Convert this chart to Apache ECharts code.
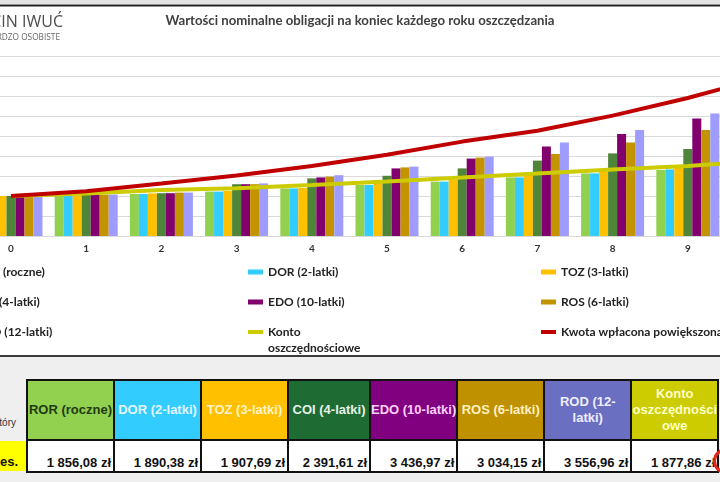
<!DOCTYPE html>
<html>
<head>
<meta charset="utf-8">
<script src="https://cdn.jsdelivr.net/npm/echarts@6/dist/echarts.min.js"></script>
<style>
html, body { margin: 0; padding: 0; width: 720px; height: 482px; overflow: hidden; background: #efefef; }
#chart { position: absolute; left: 0; top: 0; width: 720px; height: 357px; }
#tbl { position: absolute; left: 26px; top: 379px; border-collapse: collapse; table-layout: fixed;
       font-family: "Liberation Sans", Arial, sans-serif; font-weight: bold; font-size: 13px; }
#tbl td { border: 2px solid #111; padding: 0; overflow: hidden; }
#tbl tr.head td { height: 58px; text-align: center; vertical-align: middle; line-height: 16px; white-space: pre; }
#tbl tr.vals td { height: 30px; background: #fff; color: #111; text-align: right; vertical-align: bottom;
                  padding-right: 2px; line-height: 16px; white-space: nowrap; }
.lab { position: absolute; font-family: "Liberation Sans", Arial, sans-serif; box-sizing: border-box; text-align: right; }
#circle { position: absolute; left: 713px; top: 448px; width: 26px; height: 26px; box-sizing: border-box;
          border: 3px solid #e3261b; border-radius: 50%; }
</style>
</head>
<body>
<div id="chart"></div>
<div class="lab" style="left:-60px; top:417px; width:76px; font-size:10px; color:#333;">który</div>
<div class="lab" style="left:-40px; top:441px; width:66px; height:30px; background:#ffff00; padding-right:8px;
     font-weight:bold; font-size:13px; line-height:16px; padding-top:13px; color:#111;">mies.</div>
<table id="tbl"></table>
<div id="circle"></div>
<script>
// dane: wartości na koniec każdego roku (0-10)
var years = ['0', '1', '2', '3', '4', '5', '6', '7', '8', '9', '10'];
var ror   = [1000, 1010, 1050, 1110, 1190, 1275, 1360, 1465, 1565, 1650, 1856.08];
var dor   = [1000, 1010, 1050, 1110, 1190, 1275, 1360, 1465, 1565, 1665, 1890.38];
var toz   = [1000, 1020, 1065, 1125, 1200, 1320, 1400, 1525, 1610, 1715, 1907.69];
var coi   = [1000, 1030, 1070, 1295, 1440, 1505, 1690, 1885, 2065, 2175, 2391.61];
var edo   = [1000, 1035, 1070, 1295, 1465, 1690, 1935, 2235, 2550, 2940, 3436.97];
var ros   = [1000, 1035, 1085, 1295, 1485, 1715, 1960, 2050, 2335, 2650, 3034.15];
var rod   = [1000, 1035, 1085, 1315, 1520, 1735, 1985, 2335, 2650, 3065, 3556.96];
var konto = [1000, 1065, 1150, 1195, 1275, 1360, 1460, 1565, 1665, 1750, 1877.86];
var kwota = [1000, 1120, 1310, 1510, 1750, 2030, 2360, 2630, 3010, 3450, 3960];

var barNames = ['ROR (roczne)', 'DOR (2-latki)', 'TOZ (3-latki)', 'COI (4-latki)', 'EDO (10-latki)', 'ROS (6-latki)', 'ROD (12-latki)'];
var barData = [ror, dor, toz, coi, edo, ros, rod];
var barColors = ['#92D050', '#33CCFF', '#FFC000', '#4E8539', '#82006E', '#C49300', '#9E9CFF'];
var kontoName = 'Konto oszczędnościowe';
var kwotaName = 'Kwota wpłacona powiększona o inflację';

// tabela pod wykresem
var tableHeaders = ['ROR (roczne)', 'DOR (2-latki)', 'TOZ (3-latki)', 'COI (4-latki)', 'EDO (10-latki)', 'ROS (6-latki)', 'ROD (12-\nlatki)', 'Konto\noszczędności\nowe'];
var tableSeries = [ror, dor, toz, coi, edo, ros, rod, konto];
var headBg = ['#92D050', '#33CCFF', '#FFC000', '#1F6B34', '#800080', '#BF9000', '#6A6FC1', '#CCCC00'];
var headFg = ['#1f3a12', '#e4f7ff', '#fff3cc', '#e6f2e6', '#ffd0ff', '#fff0c4', '#eeeeff', '#ffffcc'];
var colW = [87, 87, 87, 82, 87, 87, 87, 87];

function zl(v) {
	var s = v.toFixed(2).replace('.', ',');
	return s.replace(/\B(?=(\d{3})+(?!\d))/, ' ') + ' zł';
}

var html = '<colgroup>' + colW.map(function (w) { return '<col style="width:' + w + 'px">'; }).join('') + '</colgroup>';
html += '<tr class="head">' + tableHeaders.map(function (h, i) {
	return '<td style="background:' + headBg[i] + ';color:' + headFg[i] + '">' + h + '</td>';
}).join('') + '</tr>';
html += '<tr class="vals">' + tableSeries.map(function (a) {
	return '<td>' + zl(a[a.length - 1]) + '</td>';
}).join('') + '</tr>';
document.getElementById('tbl').innerHTML = html;

var font = 'Lato, "Liberation Sans", sans-serif';
var chart = echarts.init(document.getElementById('chart'));

var series = barNames.map(function (n, i) {
	return {
		name: n, type: 'bar', data: barData[i], barWidth: 9, barGap: '0%',
		itemStyle: { color: barColors[i] }
	};
});
series.push({
	name: kontoName, type: 'line', data: konto, symbol: 'none', showSymbol: false,
	lineStyle: { color: '#CCCC00', width: 4 }, itemStyle: { color: '#CCCC00' }
});
series.push({
	name: kwotaName, type: 'line', data: kwota, symbol: 'none', showSymbol: false,
	lineStyle: { color: '#C00000', width: 4 }, itemStyle: { color: '#C00000' }
});

function legendRow(names, top) {
	return {
		orient: 'horizontal', left: -45, top: top, width: 900, padding: 0, itemGap: 0,
		itemWidth: 15, itemHeight: 5, selectedMode: false,
		textStyle: { fontFamily: font, fontSize: 12, fontWeight: 'bold', color: '#222', width: 273, lineHeight: 16 },
		formatter: function (n) { return n === kontoName ? '\nKonto\noszczędnościowe' : n; },
		data: names.map(function (n) {
			return barNames.indexOf(n) >= 0
				? { name: n, icon: 'rect' }
				: { name: n, icon: 'path://M0,0L15,0L15,4L0,4Z' };
		})
	};
}

var option = {
	backgroundColor: '#ffffff',
	animation: false,
	title: {
		text: 'Wartości nominalne obligacji na koniec każdego roku oszczędzania',
		left: 'center', top: 9,
		textStyle: { fontFamily: font, fontSize: 13.2, fontWeight: 'bold', color: '#404040' }
	},
	grid: { left: -26.6, top: 56, width: 827.2, height: 180, containLabel: false, outerBoundsMode: 'none' },
	xAxis: {
		type: 'category', data: years,
		axisLine: { lineStyle: { color: '#d9d9d9', width: 1 } },
		axisTick: { show: false },
		axisLabel: { color: '#333', fontSize: 10, fontWeight: 'bold', fontFamily: font, margin: 8 }
	},
	yAxis: {
		type: 'value', min: 0, max: 4500, interval: 500,
		axisLabel: { show: false }, axisLine: { show: false }, axisTick: { show: false },
		splitLine: { lineStyle: { color: '#d9d9d9', width: 1 } }
	},
	legend: [
		legendRow(['ROR (roczne)', 'DOR (2-latki)', 'TOZ (3-latki)'], 264),
		legendRow(['COI (4-latki)', 'EDO (10-latki)', 'ROS (6-latki)'], 294),
		legendRow(['ROD (12-latki)', kontoName, kwotaName], 308)
	],
	graphic: [
		{ type: 'rect', shape: { x: 0, y: 0, width: 720, height: 4 }, style: { fill: '#e4e4e4' } },
		{ type: 'rect', shape: { x: 0, y: 4.5, width: 720, height: 2 }, style: { fill: '#222' } },
		{ type: 'rect', shape: { x: 0, y: 355, width: 720, height: 2 }, style: { fill: '#3a3a3a' } },
		{ type: 'text', x: 63, y: 22, style: { text: 'MARCIN IWUĆ', align: 'right', verticalAlign: 'middle',
			font: '400 16px "Open Sans"', fill: '#4d4d4d' } },
		{ type: 'text', x: 60, y: 37.5, style: { text: 'FINANSE BARDZO OSOBISTE', align: 'right', verticalAlign: 'middle',
			font: '400 8.3px "Open Sans"', fill: '#666' } }
	],
	series: series
};
chart.setOption(option);
</script>
</body>
</html>
